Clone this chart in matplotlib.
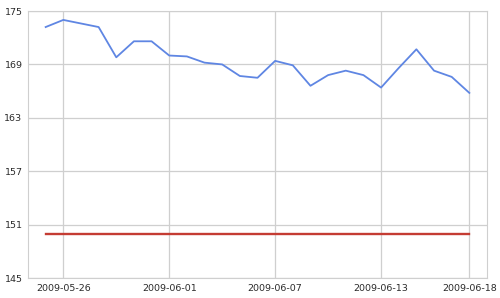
import numpy as np
import pandas as pd
import matplotlib
matplotlib.use("Agg")
import matplotlib.pyplot as plt
import matplotlib.dates as mdates

# daily values, 2009-05-25 .. 2009-06-18
dates = pd.date_range("2009-05-25", "2009-06-18", freq="D")
price = [173.2, 174.0, 173.6, 173.2, 169.8, 171.6, 171.6, 170.0, 169.9, 169.2,
         169.0, 167.7, 167.5, 169.4, 168.9, 166.6, 167.8, 168.3, 167.8, 166.4,
         168.6, 170.7, 168.3, 167.6, 165.8]
level = [149.9] * len(dates)

tick_dates = pd.to_datetime(["2009-05-26", "2009-06-01", "2009-06-07",
                             "2009-06-13", "2009-06-18"])
y_ticks = [145, 151, 157, 163, 169, 175]

fig = plt.figure(figsize=(5, 2.98), dpi=100)
ax = fig.add_axes([0.056, 0.067, 0.918, 0.896])

ax.plot(dates, price, color="#5f86e3", lw=1.3, zorder=3)
ax.plot(dates, level, color="#c43c33", lw=1.7, zorder=3)

ax.set_xlim(pd.Timestamp("2009-05-24"), pd.Timestamp("2009-06-19"))
ax.set_ylim(145, 175)
ax.set_xticks(tick_dates)
ax.xaxis.set_major_formatter(mdates.DateFormatter("%Y-%m-%d"))
ax.set_yticks(y_ticks)

ax.grid(True, color="#cfcfcf", lw=0.9)
ax.set_axisbelow(True)
for s in ax.spines.values():
    s.set_color("#cfcfcf")
ax.tick_params(length=0, labelsize=6.8, colors="#2a2a2a", pad=4)
ax.tick_params(axis="y", pad=4)

plt.savefig("out.png", dpi=100)
